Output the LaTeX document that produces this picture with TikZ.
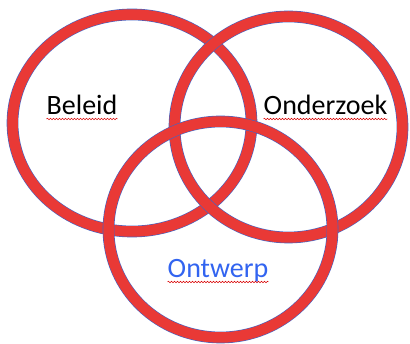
\documentclass[tikz,border=0pt]{standalone}
\usepackage{fontspec}
\setmainfont{Carlito}
\usetikzlibrary{decorations.pathmorphing}
\definecolor{ringred}{RGB}{233,57,54}
\definecolor{rimblue}{RGB}{68,100,196}
\definecolor{textblue}{RGB}{50,100,240}
\begin{document}
\begin{tikzpicture}[x=1pt, y=-1pt,
    ring/.style={draw=rimblue, line width=0.6pt, double=ringred, double distance=10.5pt},
    word/.style={inner sep=0pt, anchor=base, font=\fontsize{28}{34}\selectfont},
    squiggle/.style={draw=red!85!black, line width=0.5pt, decorate, decoration={snake, segment length=3pt, amplitude=0.8pt}}]
                \useasboundingbox (0, 0) rectangle (410, 344);
                \draw[ring] (132, 123) ellipse [x radius=119.5pt, y radius=108.5pt];
                \draw[ring] (288.5, 127) ellipse [x radius=114pt, y radius=110.5pt];
                \draw[ring] (220.5, 229.5) ellipse [x radius=112pt, y radius=108pt];
                \node(beleid) at(82, 115) [word] {Beleid};
                \node(onderzoek) at(325.5, 115) [word] {Onderzoek};
                \node(ontwerp) at(218, 278) [word, text=textblue] {Ontwerp};
                \draw[squiggle] ([yshift=-4pt]beleid.base west) -- ([yshift=-4pt]beleid.base east);
                \draw[squiggle] ([yshift=-4pt]onderzoek.base west) -- ([yshift=-4pt]onderzoek.base east);
                \draw[squiggle] ([yshift=-4pt]ontwerp.base west) -- ([yshift=-4pt]ontwerp.base east);
            \end{tikzpicture}
\end{document}
